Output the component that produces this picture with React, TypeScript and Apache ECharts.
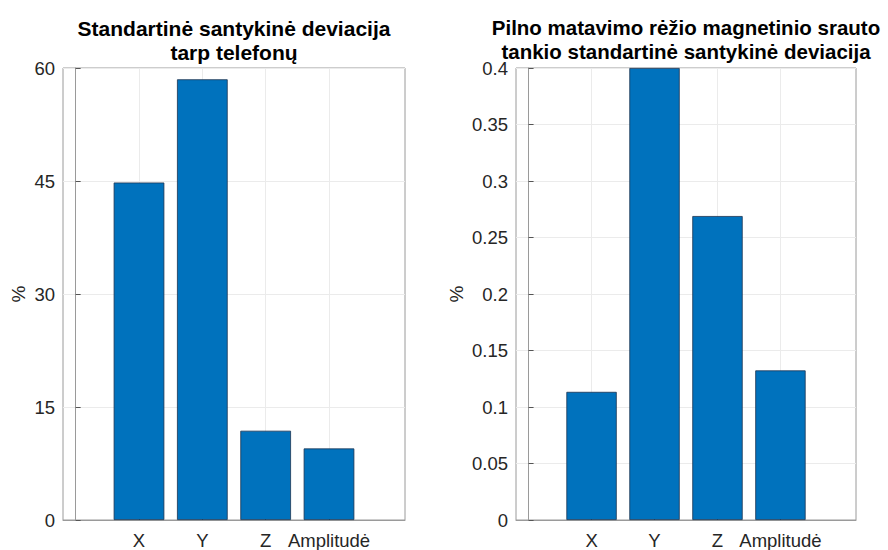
import React, { useEffect, useRef } from "react";
import * as echarts from "echarts";

// Category labels shared by both panels
const categories = ["X", "Y", "Z", "Amplitudė"];
const categoryPositions = [1, 2, 3, 4];

// Left panel: relative std. deviation between phones, %
const phoneDeviation = [44.8, 58.5, 11.85, 9.5];
const leftTicks = { min: 0, max: 60, interval: 15 };

// Right panel: relative std. deviation of full-range flux density, %
const fluxDeviation = [0.1134, 0.4, 0.269, 0.1324];
const rightTicks = { min: 0, max: 0.4, interval: 0.05 };

const leftTitle = "Standartinė santykinė deviacija\ntarp telefonų";
const rightTitle = "Pilno matavimo rėžio magnetinio srauto\ntankio standartinė santykinė deviacija";

const FONT = "'Liberation Sans', Arial, Helvetica, sans-serif";
const BAR = "#0072BD";
const AXIS = "#9a9a9a";
const GRID = "#ebebeb";
const TEXT = "#262626";

function xAxisFor(gridIndex: number) {
  return {
    type: "value" as const,
    gridIndex,
    min: -0.2,
    max: 5.2,
    axisLine: { show: true, lineStyle: { color: AXIS, width: 1 } },
    axisTick: {
      show: true,
      inside: true,
      length: 5,
      customValues: categoryPositions,
      lineStyle: { color: "#555" },
    },
    axisLabel: {
      customValues: categoryPositions,
      formatter: (v: number) => categories[Math.round(v) - 1] ?? "",
      color: TEXT,
      fontFamily: FONT,
      fontSize: 18.5,
      margin: 11,
    },
    splitLine: { show: false },
  };
}

function yAxisFor(gridIndex: number, t: { min: number; max: number; interval: number }, nameGap: number) {
  return {
    type: "value" as const,
    gridIndex,
    min: t.min,
    max: t.max,
    interval: t.interval,
    name: "%",
    nameLocation: "middle" as const,
    nameRotate: 90,
    nameGap,
    nameTextStyle: { color: TEXT, fontFamily: FONT, fontSize: 19 },
    axisLine: { show: true, lineStyle: { color: AXIS, width: 1 } },
    axisTick: { show: true, inside: true, length: 5, lineStyle: { color: "#555" } },
    axisLabel: {
      color: TEXT,
      fontFamily: FONT,
      fontSize: 18.5,
      margin: 8,
      formatter: (v: number) => String(parseFloat(v.toFixed(4))),
    },
    splitLine: { show: true, lineStyle: { color: GRID, width: 1 } },
  };
}

function barSeries(index: number, values: number[]) {
  return {
    type: "bar" as const,
    xAxisIndex: index,
    yAxisIndex: index,
    barWidth: "80%",
    data: values.map((v, i) => [categoryPositions[i], v]),
    itemStyle: { color: BAR, borderColor: "#1c3450", borderWidth: 0.8 },
    markLine: {
      silent: true,
      symbol: "none",
      label: { show: false },
      lineStyle: { color: GRID, type: "solid", width: 1 },
      z: 0,
      data: categoryPositions.map((p) => ({ xAxis: p })),
    },
    z: 3,
  };
}

const titleStyle = {
  fontFamily: FONT,
  fontSize: 21,
  fontWeight: "bold" as const,
  color: "#000",
  lineHeight: 24.5,
};

export default function App() {
  const ref = useRef<HTMLDivElement>(null);

  useEffect(() => {
    if (!ref.current) return;
    const chart = echarts.init(ref.current, null, { renderer: "svg" });
    chart.setOption({
      animation: false,
      backgroundColor: "#ffffff",
      title: [
        { text: leftTitle, left: 234, top: 16, padding: 0, textAlign: "center", textStyle: titleStyle },
        {
          text: rightTitle,
          left: 686,
          top: 16,
          padding: 0,
          textAlign: "center",
          textStyle: { ...titleStyle, fontSize: 20.5, lineHeight: 23.5 },
        },
      ],
      grid: [
        { left: 63, right: 483, top: 68, bottom: 28, show: true, borderColor: AXIS, borderWidth: 1, backgroundColor: "transparent" },
        { left: 516, right: 32, top: 68, bottom: 28, show: true, borderColor: AXIS, borderWidth: 1, backgroundColor: "transparent" },
      ],
      xAxis: [xAxisFor(0), xAxisFor(1)],
      yAxis: [yAxisFor(0, leftTicks, 35), yAxisFor(1, rightTicks, 50)],
      series: [barSeries(0, phoneDeviation), barSeries(1, fluxDeviation)],
    });
    return () => chart.dispose();
  }, []);

  return (
    <div
      ref={ref}
      style={{ position: "fixed", left: 0, top: 0, width: 888, height: 550 }}
    />
  );
}
